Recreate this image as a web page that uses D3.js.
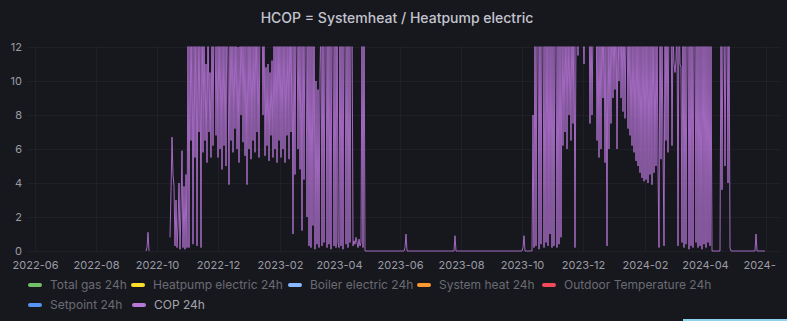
<!DOCTYPE html>
<html><head><meta charset="utf-8">
<script src="https://cdn.jsdelivr.net/npm/d3@7"></script>
<style>html,body{margin:0;padding:0;background:#111217;overflow:hidden}svg{display:block;font-family:Inter,"Noto Sans",sans-serif}</style>
</head><body>
<svg id="c" width="787" height="321"></svg>
<script>
// ---- data (daily COP 24h values, null = no data) ----
const cop_2022_09 = [null,null,null,null,null,null,null,null,null,null,null,null,null,null,null,null,null,null,null,0,0.2,1.1,0,null,null,null,null,null,null,null];
const cop_2022_10 = [null,null,null,null,null,null,null,null,null,null,null,null,null,0.8,3.5,6.7,4.5,3.8,0.3,3.0,0.2,1.5,4.0,0.1,2.5,5.9,0.2,3.8,0.1,4.5,0.2];
const cop_2022_11 = [14,0.2,13.5,6.5,15,0.4,12.8,5.5,16,0.3,14,7,13,0.2,17,5.8,14,6.5,11,5.2,15,7,10.5,5.5,14,6.2,15,14,6.8,12.8];
const cop_2022_12 = [5.5,15,6,13,4.8,14,6.2,12.5,5,16,11,3.9,14,6.5,15,5.8,13,7.2,14.5,6,12,5.2,13.5,8,15,6.4,14,5.6,12.5,3.9,14];
const cop_2023_01 = [6,15,5.4,13,6.5,14,5.8,16,7,12.4,5.5,14,13,15,8,14,5.6,10.8,6.2,11,5.3,10.5,6.8,11.2,5.5,13,6,14,5.2,15,6.5];
const cop_2023_02 = [14,5.5,13,6,15,5.2,12.6,6.8,14,5.4,16,7,13,1.0,14,4.5,15,13.5,6,14,4.8,13,1.2,15,4.2,14,12.5,2];
const cop_2023_03 = [15,0.3,14,0.2,13,1.5,16,0.1,10,0.4,9.5,0.2,10.5,14,0.3,15,0.5,13,14,0.2,16,0.4,12.5,0.1,15,13,0.3,14,0.2,17,0.5];
const cop_2023_04 = [0.2,15,0.3,14,0.1,16,13,0.4,15,0.2,12.8,0.5,14,15,0.3,0.6,0.4,0.8,0.5,0.2,0.7,0.3,0.5,14,0.2,15,0,0,0,0];
const cop_2023_05 = [0,0,0,0,0,0,0,0,0,0,0,0,0,0,0,0,0,0,0,0,0,0,0,0,0,0,0,0,0,0,0];
const cop_2023_06 = [0,0,0,0,0,0.2,1.0,0,0,0,0,0,0,0,0,0,0,0,0,0,0,0,0,0,0,0,0,0,0,0];
const cop_2023_07 = [0,0,0,0,0,0,0,0,0,0,0,0,0,0,0,0,0,0,0,0,0,0,0,0,0,0.9,0,0,0,0,0];
const cop_2023_08 = [0,0,0,0,0,0,0,0,0,0,0,0,0,0,0,0,0,0,0,0,0,0,0,0,0,0,0,0,0,0,0];
const cop_2023_09 = [0,0,0,0,0,0,0,0,0,0,0,0,0,0,0,0,0,0,0,0,0,0,0,0,0,0,0,0,0,0];
const cop_2023_10 = [0,0.2,0.9,0,0,0,0,0,0,0,0,8,0.2,15,0.3,14,13,0.1,16,0.4,14,15,0.2,13,0.5,17,0.3,14,1.0,15,0.2];
const cop_2023_11 = [14,0.3,15,13,0.2,14,0.4,16,0.8,14,6.2,13,7,15,6,14,8,12.6,6.5,15,7.5,14,0.2,13,15,11.5,16,14,13,15];
const cop_2023_12 = [14,11,15,16,14,13,15,7.5,14,8,13,15,14,16,6.5,13,5.5,14,6,15,9,14,5.2,13,0.3,15,6,14,7.5,16,9];
const cop_2024_01 = [14,9.5,15,6,13,10,16,9,14,8.2,15,7.8,13,14,7.2,15,6.8,12.5,6.2,14,5.8,13,5.3,15,5,14,4.6,12.8,4.3,15,4.1];
const cop_2024_02 = [14,4.2,15,4.0,13,4.5,14,3.9,16,4.6,12.5,5,14,4.8,0.2,15,5.4,13,6,0.3,14,6.5,15,5.8,14,16,15,6.2,13];
const cop_2024_03 = [11,10.5,11.2,14,0.3,15,11,10.8,0.5,16,0.2,14,0.4,13,15,0.1,14,0.3,16,0.2,13,14,0.5,15,0.2,14,0.3,13,0.1,16,0.4];
const cop_2024_04 = [15,0.2,14,0.5,13,0.3,12.5,0,0,0,0,0,0,0,0,0,14,3.6,13,15,5,12.8,14,4,15,0.2,0,0,0,0];
const cop_2024_05 = [0,0,0,0,0,0,0,0,0,0,0,0,0,0,0,0,0,0,0,0,0,1.0,0,0,0,0,0,0,0,0,0];

const copMonths = [
  ["2022-09", cop_2022_09], ["2022-10", cop_2022_10], ["2022-11", cop_2022_11], ["2022-12", cop_2022_12],
  ["2023-01", cop_2023_01], ["2023-02", cop_2023_02], ["2023-03", cop_2023_03], ["2023-04", cop_2023_04],
  ["2023-05", cop_2023_05], ["2023-06", cop_2023_06], ["2023-07", cop_2023_07], ["2023-08", cop_2023_08],
  ["2023-09", cop_2023_09], ["2023-10", cop_2023_10], ["2023-11", cop_2023_11], ["2023-12", cop_2023_12],
  ["2024-01", cop_2024_01], ["2024-02", cop_2024_02], ["2024-03", cop_2024_03], ["2024-04", cop_2024_04],
  ["2024-05", cop_2024_05]
];

const xTickLabels = ["2022-06","2022-08","2022-10","2022-12","2023-02","2023-04","2023-06","2023-08","2023-10","2023-12","2024-02","2024-04","2024-06"];
const yTicks = [0,2,4,6,8,10,12];
const legendNames = ["Total gas 24h","Heatpump electric 24h","Boiler electric 24h","System heat 24h","Outdoor Temperature 24h","Setpoint 24h","COP 24h"];
const legendColors = ["#73bf69","#fade2a","#8ab8ff","#ff9830","#f2495c","#5794f2","#b877d9"];
const title = "HCOP = Systemheat / Heatpump electric";

// ---- build series ----
const parseMonth = d3.utcParse("%Y-%m");
const series = [];
copMonths.forEach(([m, arr]) => {
  const start = parseMonth(m);
  arr.forEach((v, i) => series.push({t: d3.utcDay.offset(start, i), v}));
});

// ---- drawing ----
const W = 787, H = 321;
const svg = d3.select("#c");
svg.append("rect").attr("width", W).attr("height", H).attr("fill", "#17181d");

const plot = {l: 28, r: 780, t: 47, b: 251};
const x = d3.scaleUtc().domain([Date.UTC(2022,4,25), Date.UTC(2024,5,15)]).range([plot.l, plot.r]);
const y = d3.scaleLinear().domain([0, 12]).range([plot.b, plot.t]);

// title
svg.append("text").attr("x", 397).attr("y", 23).attr("text-anchor", "middle")
  .attr("fill", "#c4c4d0").attr("font-size", 14).attr("font-weight", 500).text(title);

// grid
const grid = svg.append("g");
grid.selectAll("line.h").data(yTicks).join("line")
  .attr("x1", plot.l).attr("x2", plot.r).attr("y1", d => y(d) + 0.5).attr("y2", d => y(d) + 0.5)
  .attr("stroke", "rgba(204,204,220,0.05)");
const xTickDates = xTickLabels.map(s => parseMonth(s));
grid.selectAll("line.v").data(xTickDates).join("line")
  .attr("y1", plot.t).attr("y2", plot.b).attr("x1", d => Math.round(x(d)) + 0.5).attr("x2", d => Math.round(x(d)) + 0.5)
  .attr("stroke", "rgba(204,204,220,0.05)");

// y axis
const yAxis = d3.axisLeft(y).tickValues(yTicks).tickSize(0).tickPadding(0);
const gy = svg.append("g").attr("transform", `translate(22,0)`).call(yAxis);
gy.select(".domain").remove();
gy.selectAll("text").attr("fill", "#9b9ca6").attr("font-size", 11).attr("font-family", "Inter,sans-serif");

// x axis (last label is cut at the panel edge, as in the reference)
svg.append("clipPath").attr("id", "xclip").append("rect").attr("x", 0).attr("y", 252).attr("width", 776).attr("height", 30);
const xAxis = d3.axisBottom(x).tickValues(xTickDates).tickFormat(d3.utcFormat("%Y-%m")).tickSize(0).tickPadding(0);
const gx = svg.append("g").attr("clip-path", "url(#xclip)").append("g").attr("transform", `translate(0,261)`).call(xAxis);
gx.select(".domain").remove();
gx.selectAll("text").attr("fill", "#9b9ca6").attr("font-size", 11).attr("font-family", "Inter,sans-serif");

// series line
svg.append("clipPath").attr("id", "pclip").append("rect").attr("x", plot.l).attr("y", plot.t - 0.5).attr("width", plot.r - plot.l).attr("height", plot.b - plot.t + 2);
const line = d3.line().defined(d => d.v !== null).x(d => x(d.t)).y(d => y(d.v));
svg.append("path").attr("clip-path", "url(#pclip)").datum(series)
  .attr("d", line).attr("fill", "none").attr("stroke", "#b877d9").attr("stroke-opacity", 0.85)
  .attr("stroke-width", 1).attr("stroke-linejoin", "round");

// legend
const legendPos = [[28,285],[131,285],[288,285],[417,285],[542,285],[28,305],[132,305]];
const lg = svg.append("g");
legendNames.forEach((name, i) => {
  const [lx, ly] = legendPos[i];
  lg.append("rect").attr("x", lx).attr("y", ly - 2).attr("width", 14).attr("height", 4).attr("rx", 2).attr("fill", legendColors[i]);
  lg.append("text").attr("x", lx + 22).attr("y", ly).attr("dy", "0.35em").attr("font-size", 12)
    .attr("fill", i === 6 ? "#a4a5ad" : "#6a6b74").text(name);
});

// bottom-right accent
svg.append("rect").attr("x", 683).attr("y", 319).attr("width", 104).attr("height", 2).attr("fill", "#8fd3ee");
</script>
</body></html>
